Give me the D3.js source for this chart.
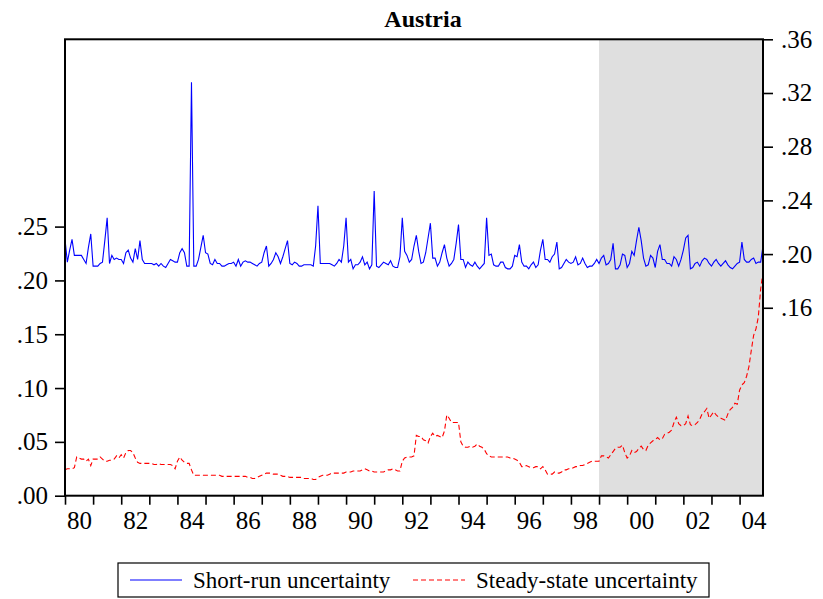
<!DOCTYPE html>
<html>
<head>
<meta charset="utf-8">
<script src="https://cdn.jsdelivr.net/npm/d3@7/dist/d3.min.js"></script>
<style>
  body { margin: 0; background: #fff; }
  svg { display: block; font-family: "Liberation Serif", "Times New Roman", serif; }
</style>
</head>
<body>
<script>
// monthly, 1980M01 .. 2004M11
var startYear = 1980;
var shadeStart = 228; // 1999M01

var xTickLabels = ["80","82","84","86","88","90","92","94","96","98","00","02","04"];
var leftTicks = [0, 0.05, 0.10, 0.15, 0.20, 0.25];
var rightTicks = [0.16, 0.20, 0.24, 0.28, 0.32, 0.36];
var seriesNames = ["Short-run uncertainty", "Steady-state uncertainty"];

// short-run uncertainty (right axis)
var shortRun = [
  .211,.194,.203,.211,.199,.199,.199,.199,.196,.193,
  .205,.215,.191,.191,.191,.193,.194,.210,.227,.193,
  .199,.196,.197,.196,.196,.193,.201,.203,.197,.194,
  .204,.196,.210,.196,.193,.193,.193,.193,.192,.193,
  .191,.193,.191,.190,.193,.196,.195,.194,.194,.201,
  .204,.201,.191,.191,.328,.191,.191,.196,.205,.214,
  .201,.200,.193,.192,.196,.193,.193,.191,.191,.192,
  .193,.193,.194,.191,.196,.191,.194,.195,.194,.194,
  .193,.192,.191,.193,.194,.201,.206,.191,.193,.196,
  .201,.198,.193,.198,.204,.210,.193,.192,.194,.193,
  .191,.191,.192,.192,.192,.192,.191,.206,.236,.193,
  .193,.193,.193,.193,.192,.191,.193,.196,.194,.206,
  .227,.194,.196,.189,.192,.192,.194,.198,.192,.194,
  .189,.192,.247,.191,.190,.192,.194,.193,.192,.195,
  .191,.190,.190,.198,.227,.202,.199,.194,.196,.206,
  .214,.202,.193,.194,.201,.212,.223,.197,.197,.191,
  .194,.201,.207,.197,.191,.193,.196,.208,.222,.196,
  .196,.190,.194,.192,.191,.194,.191,.189,.191,.193,
  .227,.199,.200,.192,.191,.191,.194,.194,.190,.189,
  .189,.191,.199,.198,.207,.194,.191,.191,.189,.192,
  .194,.190,.192,.203,.211,.196,.196,.194,.198,.200,
  .209,.189,.190,.193,.196,.194,.193,.194,.198,.192,
  .193,.197,.193,.190,.191,.191,.193,.196,.193,.197,
  .199,.192,.193,.196,.208,.189,.189,.192,.200,.199,
  .190,.193,.202,.199,.210,.220,.210,.197,.191,.192,
  .199,.197,.190,.202,.207,.196,.196,.193,.193,.191,
  .198,.196,.191,.196,.203,.212,.214,.189,.190,.193,
  .194,.191,.195,.197,.196,.193,.191,.194,.196,.193,
  .191,.193,.195,.192,.190,.189,.191,.193,.194,.209,
  .196,.194,.194,.196,.197,.193,.194,.194,.206
];

// steady-state uncertainty (left axis)
var steadyState = [
  .024,.025,.025,.025,.026,.036,.035,.034,.034,.032,
  .034,.028,.034,.034,.034,.036,.034,.032,.032,.033,
  .033,.034,.037,.035,.038,.035,.040,.042,.042,.040,
  .035,.031,.030,.030,.030,.030,.030,.030,.029,.029,
  .030,.029,.029,.029,.029,.029,.028,.025,.032,.036,
  .033,.031,.030,.030,.024,.019,.019,.019,.019,.019,
  .019,.019,.019,.019,.019,.019,.019,.018,.018,.018,
  .018,.018,.018,.018,.018,.018,.018,.018,.017,.017,
  .016,.016,.017,.018,.019,.020,.021,.021,.021,.020,
  .020,.020,.019,.018,.018,.018,.017,.017,.017,.017,
  .017,.017,.016,.016,.016,.016,.015,.015,.017,.018,
  .019,.019,.019,.020,.021,.021,.021,.021,.021,.021,
  .022,.022,.022,.023,.023,.023,.023,.024,.025,.024,
  .023,.023,.022,.022,.022,.022,.022,.023,.024,.024,
  .025,.024,.023,.023,.032,.035,.036,.036,.036,.037,
  .056,.055,.055,.052,.051,.049,.055,.058,.055,.056,
  .055,.054,.060,.075,.072,.068,.068,.068,.068,.050,
  .046,.045,.045,.046,.045,.046,.048,.046,.045,.043,
  .039,.037,.036,.036,.036,.036,.036,.036,.036,.036,
  .035,.035,.034,.033,.031,.027,.027,.028,.027,.026,
  .026,.027,.027,.025,.027,.024,.020,.020,.020,.022,
  .021,.021,.022,.024,.024,.025,.025,.026,.027,.027,
  .028,.028,.029,.030,.031,.032,.032,.032,.032,.037,
  .037,.036,.035,.038,.041,.044,.045,.045,.047,.040,
  .035,.037,.042,.040,.041,.044,.046,.043,.042,.047,
  .049,.051,.052,.054,.052,.053,.057,.058,.059,.061,
  .068,.073,.067,.065,.065,.067,.074,.066,.065,.066,
  .068,.071,.076,.078,.081,.072,.075,.078,.075,.073,
  .072,.071,.070,.076,.080,.082,.086,.085,.098,.103,
  .105,.111,.120,.135,.149,.155,.166,.192,.208
];

var svgWidth = 823;
var svgHeight = 599;
var plotLeft = 65, plotRight = 763, plotTop = 39.3, plotBottom = 495.7;

var svg = d3.select('body')
    .append('svg')
    .attr('width', svgWidth)
    .attr('height', svgHeight);

var x = d3.scaleLinear().domain([0, shortRun.length - 1]).range([plotLeft, plotRight]);
var yL = d3.scaleLinear().domain([0, 0.424]).range([plotBottom, plotTop]);
var yR = d3.scaleLinear().domain([0.02, 0.36]).range([plotBottom, plotTop]);

var fmt = function (d) { return d3.format('.2f')(d).replace(/^0/, ''); };

// shaded period
svg.append('rect')
    .attr('x', x(shadeStart))
    .attr('y', plotTop)
    .attr('width', x(shortRun.length - 1) - x(shadeStart))
    .attr('height', plotBottom - plotTop)
    .attr('fill', '#dfdfdf');

var lineR = d3.line()
    .x(function (d, i) { return x(i); })
    .y(function (d) { return yR(d); });
var lineL = d3.line()
    .x(function (d, i) { return x(i); })
    .y(function (d) { return yL(d); });

svg.append('path')
    .datum(shortRun)
    .attr('d', lineR)
    .attr('fill', 'none')
    .attr('stroke', '#0000ff')
    .attr('stroke-width', 1.1);

svg.append('path')
    .datum(steadyState)
    .attr('d', lineL)
    .attr('fill', 'none')
    .attr('stroke', '#ff0000')
    .attr('stroke-width', 1.1)
    .attr('stroke-dasharray', '5,3');

// axes
var yearTicks = d3.range(0, shortRun.length, 12);
var halfYear = x(6) - x(0);

var gx = svg.append('g')
    .attr('transform', 'translate(0,' + plotBottom + ')')
    .call(d3.axisBottom(x)
        .tickValues(yearTicks)
        .tickSize(9)
        .tickPadding(7)
        .tickFormat(function (d) {
            var k = d / 12;
            return k % 2 === 0 ? xTickLabels[k / 2] : '';
        }));
// year labels sit in the middle of their year
gx.selectAll('.tick text').attr('x', halfYear);

var gl = svg.append('g')
    .attr('transform', 'translate(' + plotLeft + ',0)')
    .call(d3.axisLeft(yL).tickValues(leftTicks).tickSize(10).tickPadding(7).tickFormat(fmt));

var gr = svg.append('g')
    .attr('transform', 'translate(' + plotRight + ',0)')
    .call(d3.axisRight(yR).tickValues(rightTicks).tickSize(10).tickPadding(8).tickFormat(fmt));

[gx, gl, gr].forEach(function (g) {
    g.select('.domain').remove();
    g.selectAll('.tick line').attr('stroke', '#000').attr('stroke-width', 1.6);
    g.selectAll('.tick text')
        .attr('fill', '#000')
        .style('font-family', '"Liberation Serif", "Times New Roman", serif')
        .style('font-size', '25px');
});

// frame
svg.append('rect')
    .attr('x', plotLeft)
    .attr('y', plotTop)
    .attr('width', plotRight - plotLeft)
    .attr('height', plotBottom - plotTop)
    .attr('fill', 'none')
    .attr('stroke', '#000')
    .attr('stroke-width', 2);

// title
svg.append('text')
    .attr('x', 423)
    .attr('y', 27)
    .attr('text-anchor', 'middle')
    .style('font-size', '24px')
    .style('font-weight', 'bold')
    .text('Austria');

// legend
var legend = svg.append('g');
legend.append('rect')
    .attr('x', 118)
    .attr('y', 563)
    .attr('width', 591)
    .attr('height', 34)
    .attr('fill', '#fff')
    .attr('stroke', '#000')
    .attr('stroke-width', 1.2);

var items = [
    { name: seriesNames[0], color: '#0000ff', dash: null, x0: 130 },
    { name: seriesNames[1], color: '#ff0000', dash: '5,3', x0: 413 }
];
items.forEach(function (it) {
    legend.append('line')
        .attr('x1', it.x0)
        .attr('x2', it.x0 + 52)
        .attr('y1', 580)
        .attr('y2', 580)
        .attr('stroke', it.color)
        .attr('stroke-width', 1.1)
        .attr('stroke-dasharray', it.dash);
    legend.append('text')
        .attr('x', it.x0 + 63)
        .attr('y', 588)
        .style('font-size', '23px')
        .text(it.name);
});
</script>
</body>
</html>
